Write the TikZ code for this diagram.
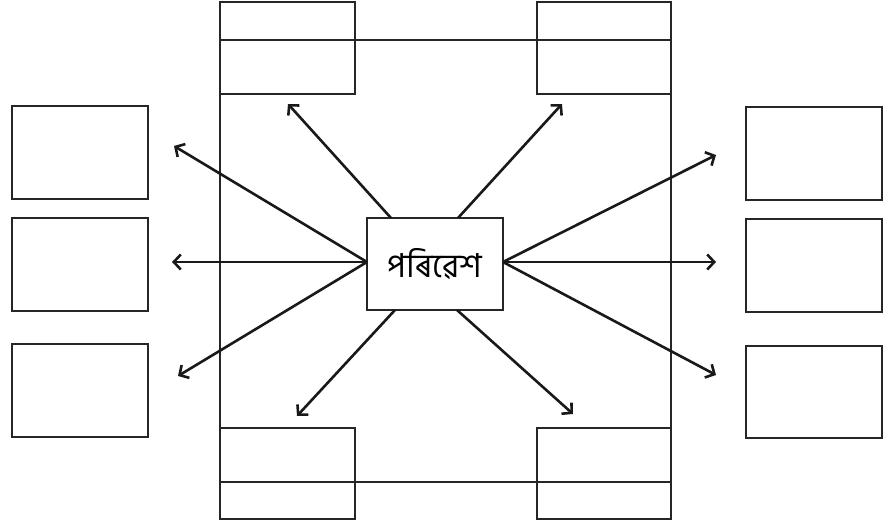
\documentclass[tikz,border=0pt]{standalone}
\usepackage{fontspec}
\newfontfamily\bnfont[Script=Bengali]{Hind Siliguri}
\usetikzlibrary{arrows.meta}
\begin{document}
\begin{tikzpicture}[x=1pt,y=-1pt,
  bx/.style={draw=black!85,line width=2.8pt},
  ar/.style={draw=black!90,line width=2.6pt,-{Straight Barb[length=7pt,width=15pt,line width=2.6pt]}}]
\useasboundingbox (0,0) rectangle (889,526);
% frame
\draw[bx] (220,40) rectangle (671,482);
% corner boxes
\draw[bx] (220,2) rectangle (355,94);
\draw[bx] (537,2) rectangle (671,94);
\draw[bx] (220,428) rectangle (355,519);
\draw[bx] (537,428) rectangle (671,519);
% side boxes
\draw[bx] (12,106) rectangle (148,199);
\draw[bx] (12,218) rectangle (148,311);
\draw[bx] (12,344) rectangle (148,437);
\draw[bx] (746,107) rectangle (882,200);
\draw[bx] (746,219) rectangle (882,312);
\draw[bx] (746,346) rectangle (882,438);
% center
\node[bx,fill=white,minimum width=136pt,minimum height=92pt,inner sep=0pt] (c) at (435,264) {\bnfont\fontsize{33}{36}\selectfont\raisebox{-2pt}{পৰিৱেশ}};
\coordinate (tl) at (288,104);
\coordinate (tr) at (562,104);
\coordinate (bl) at (297,416);
\coordinate (br) at (573,414);
\coordinate (l1) at (174,146);
\coordinate (l2) at (172,262);
\coordinate (l3) at (178,376);
\coordinate (r1) at (716,155);
\coordinate (r2) at (716,262);
\coordinate (r3) at (716,375);
\coordinate (ctl) at (391,218);
\coordinate (ctr) at (458,218);
\coordinate (cbl) at (395,310);
\coordinate (cbr) at (457,310);
\coordinate (cl) at (367,262);
\coordinate (cr) at (503,262);
\draw[ar] (ctl) -- (tl);
\draw[ar] (ctr) -- (tr);
\draw[ar] (cbl) -- (bl);
\draw[ar] (cbr) -- (br);
\draw[ar] (cl) -- (l1);
\draw[ar] (cl) -- (l2);
\draw[ar] (cl) -- (l3);
\draw[ar] (cr) -- (r1);
\draw[ar] (cr) -- (r2);
\draw[ar] (cr) -- (r3);
\end{tikzpicture}
\end{document}
